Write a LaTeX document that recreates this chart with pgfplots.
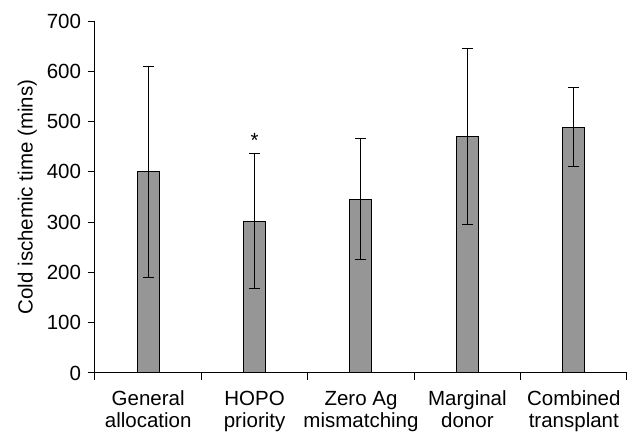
\documentclass[border=0pt]{standalone}
\usepackage{fontspec}
\setmainfont{Liberation Sans}
\usepackage{pgfplots}
\pgfplotsset{compat=1.18}
\definecolor{barfill}{RGB}{150,150,150}
\begin{document}
\fontsize{20.5bp}{22bp}\selectfont
\begin{tikzpicture}
\begin{axis}[
  scale only axis,
  width=532bp, height=352bp,
  xmin=0.5, xmax=5.5, ymin=0, ymax=700,
  axis x line*=bottom, axis y line*=left,
  ytick={0,100,...,700},
  xtick={0.5,1.5,...,5.5}, xticklabels={},
  extra x ticks={1,2,3,4,5},
  extra x tick labels={{General\\allocation},{HOPO\\priority},{Zero Ag\\mismatching},{Marginal\\donor},{Combined\\transplant}},
  extra x tick style={major tick length=0pt, xticklabel style={align=center, yshift=-11bp}},
  tick align=outside, major tick length=7bp,
  tick style={black, line width=1bp},
  axis line style={black, line width=1bp},
  ylabel={Cold ischemic time (mins)},
  ylabel style={font=\fontsize{20.5bp}{22bp}\selectfont, yshift=-4bp},
  ticklabel style={font=\fontsize{20.5bp}{22bp}\selectfont},
  /pgf/number format/assume math mode=true,
  clip=false,
]
\addplot[ybar, bar width=22bp, fill=barfill, draw=black, line width=1bp,
  error bars/.cd, y dir=both, y explicit,
  error bar style={line width=1bp, black},
  error mark options={rotate=90, mark size=5.5bp, line width=1bp, black}]
coordinates {
  (1,400) +- (0,210)
  (2,302) +- (0,134)
  (3,346) +- (0,121)
  (4,470) +- (0,175)
  (5,489) +- (0,79)
};
\node at (axis cs:2,462) {*};
\end{axis}
\path[use as bounding box] (-95bp,-58bp) rectangle (539bp,373bp);
\end{tikzpicture}
\end{document}
